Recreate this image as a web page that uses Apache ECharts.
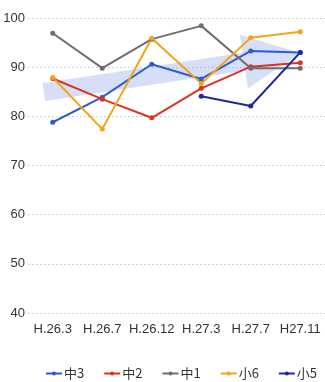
<!DOCTYPE html>
<html>
<head>
<meta charset="utf-8">
<style>
  html, body { margin: 0; padding: 0; background: #fff; }
  #chart { width: 325px; height: 382px; }
</style>
<script src="https://cdn.jsdelivr.net/npm/echarts@6/dist/echarts.min.js"></script>
</head>
<body>
<div id="chart"></div>
<script>
// Survey periods
const periods = ['H.26.3', 'H.26.7', 'H.26.12', 'H.27.3', 'H.27.7', 'H27.11'];

// Scores per grade (%)
const chu3 = [78.8, 83.9, 90.6, 87.6, 93.3, 93.0];
const chu2 = [87.7, 83.5, 79.7, 85.7, 90.1, 90.9];
const chu1 = [96.9, 89.8, 95.7, 98.4, 89.8, 89.8];
const sho6 = [87.9, 77.4, 95.9, 86.7, 96.0, 97.2];
const sho5 = [null, null, null, 84.1, 82.1, 93.0];

// Y axis range
const yMin = 40, yMax = 100, yStep = 10;

// Trend arrow anchors (category index, value)
const trendFrom = [0, 85.2];
const trendTo = [5, 92.9];

const font = "'Liberation Sans Narrow', 'Liberation Sans', 'Noto Sans CJK JP', sans-serif";

const seriesDefs = [
  { name: '中3', data: chu3, color: '#2f5bcc' },
  { name: '中2', data: chu2, color: '#d9341f' },
  { name: '中1', data: chu1, color: '#6e6e6e' },
  { name: '小6', data: sho6, color: '#f2a516' },
  { name: '小5', data: sho5, color: '#1c2a9a' }
];

const chart = echarts.init(document.getElementById('chart'), null, { renderer: 'canvas' });

chart.setOption({
  animation: false,
  grid: { left: 28, right: 0, top: 18, bottom: 69, containLabel: false },
  legend: {
    bottom: -3,
    left: 40,
    itemWidth: 16,
    itemHeight: 5,
    itemGap: 19,
    textStyle: { fontFamily: "'Noto Sans CJK JP', sans-serif", fontSize: 13, color: '#333', padding: [0, 0, 0, -3] },
    data: seriesDefs.map(s => s.name)
  },
  xAxis: {
    type: 'category',
    data: periods,
    boundaryGap: true,
    axisLine: { show: false },
    axisTick: { show: false },
    axisLabel: { fontFamily: font, fontSize: 13, color: '#333', margin: 10, interval: 0 }
  },
  yAxis: {
    type: 'value',
    min: yMin,
    max: yMax,
    interval: yStep,
    axisLine: { show: false },
    axisTick: { show: false },
    axisLabel: { fontFamily: font, fontSize: 13, color: '#333', margin: 3 },
    splitLine: { lineStyle: { color: '#c4c4c4', type: [1.5, 2.5], width: 1 } }
  },
  series: seriesDefs.map(s => ({
    name: s.name,
    type: 'line',
    data: s.data,
    color: s.color,
    symbol: 'circle',
    symbolSize: 5,
    connectNulls: false,
    lineStyle: { width: 2, color: s.color },
    itemStyle: { color: s.color },
    z: 3
  }))
});

// Wide trend arrow behind the lines, built from its anchor values
function drawTrendArrow() {
  const a = chart.convertToPixel({ gridIndex: 0 }, trendFrom);
  const b = chart.convertToPixel({ gridIndex: 0 }, trendTo);
  const dx = b[0] - a[0], dy = b[1] - a[1];
  const len = Math.hypot(dx, dy);
  const ux = dx / len, uy = dy / len;
  const nx = -uy, ny = ux;
  const start = [a[0] - 9 * ux, a[1] - 9 * uy];
  const tip = b;
  const headLen = 57, shaftHalf = 9, headHalf = 27;
  const base = [tip[0] - headLen * ux, tip[1] - headLen * uy];
  const p = (pt, k) => [pt[0] + k * nx, pt[1] + k * ny];
  const points = [
    p(start, -shaftHalf), p(base, -shaftHalf), p(base, -headHalf),
    tip,
    p(base, headHalf), p(base, shaftHalf), p(start, shaftHalf)
  ];
  chart.setOption({
    graphic: [{
      type: 'polygon',
      z: 1,
      silent: true,
      shape: { points: points },
      style: { fill: 'rgba(165, 185, 238, 0.45)' }
    }]
  });
}
drawTrendArrow();
</script>
</body>
</html>
